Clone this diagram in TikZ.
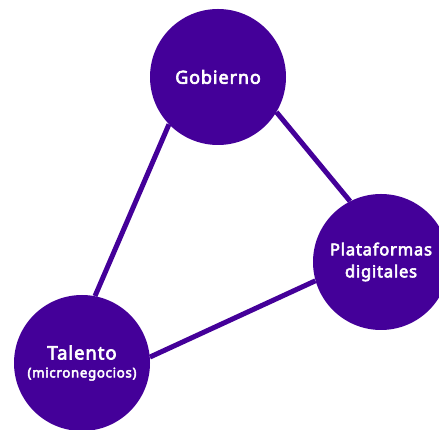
\documentclass[tikz,border=0pt]{standalone}
\usepackage{fontspec}
\setmainfont{Noto Sans}[AutoFakeBold=3.5, LetterSpace=5]
\usepackage{tikz}
\usetikzlibrary{positioning}
\definecolor{morado}{HTML}{440099}

\begin{document}
\begin{tikzpicture}[x=1pt, y=1pt,
  hub/.style = {circle, fill=morado, draw=none, minimum size=136pt, inner sep=0pt, text=white, align=center},
  enlace/.style = {draw=morado, line width=5pt}]
\useasboundingbox (0,0) rectangle (439,430);
\node[hub, font=\fontsize{18}{20}\selectfont\bfseries](gob) at (218,353) {Gobierno};
\node[hub, font=\fontsize{16.5}{22}\selectfont\bfseries](plat) at (381,168) {Plataformas\\ digitales};
\node[hub, font=\fontsize{18.5}{19}\selectfont\bfseries](tal) at (82,67) {Talento\\[-1pt] \fontsize{13.3}{14}\selectfont (micronegocios)};
\draw[enlace] (gob.-31) -- (plat.117);
\draw[enlace] (plat.196) -- (tal.5);
\draw[enlace] (tal.79) -- (gob.224);
\end{tikzpicture}
\end{document}
